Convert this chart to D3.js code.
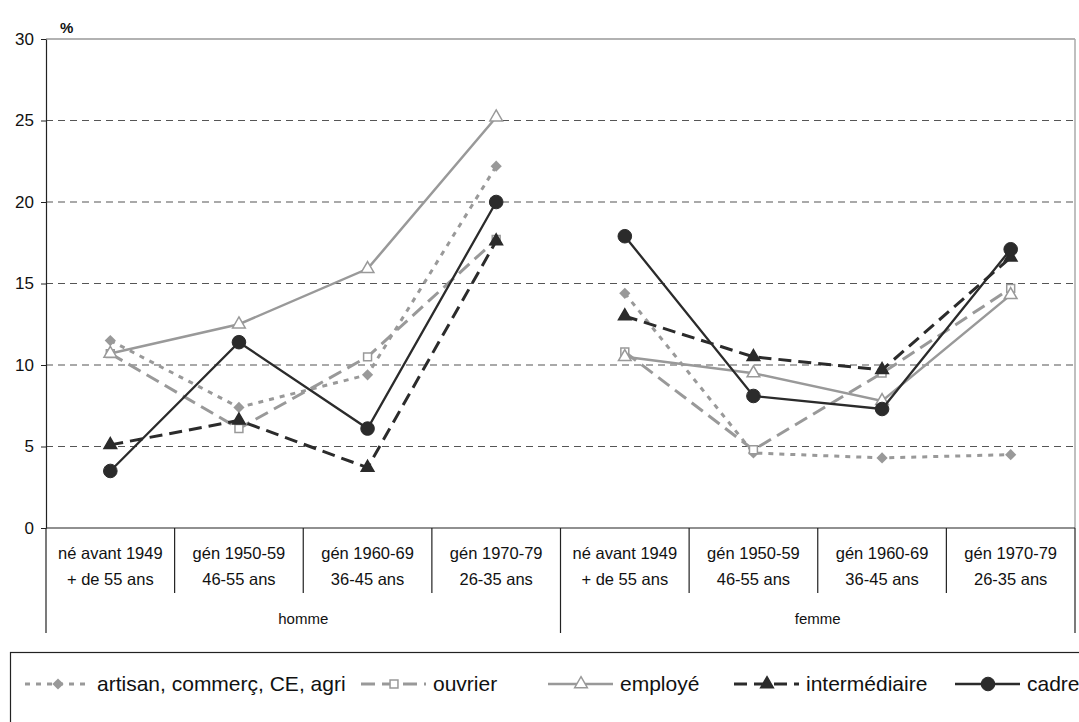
<!DOCTYPE html>
<html>
<head>
<meta charset="utf-8">
<script src="https://cdn.jsdelivr.net/npm/d3@7"></script>
<style>
  body { margin: 0; background: #fff; }
  text { font-family: Arial, "Liberation Sans", sans-serif; fill: #111; }
</style>
</head>
<body>
<div id="chart"></div>
<script>
var width = 1079;
var height = 722;
var margin = {top: 39, right: 4, bottom: 194, left: 46};

// categories (two label lines per column) and groups
var catLine1 = ["né avant 1949", "gén 1950-59", "gén 1960-69", "gén 1970-79",
                "né avant 1949", "gén 1950-59", "gén 1960-69", "gén 1970-79"];
var catLine2 = ["+ de 55 ans", "46-55 ans", "36-45 ans", "26-35 ans",
                "+ de 55 ans", "46-55 ans", "36-45 ans", "26-35 ans"];
var groups = ["homme", "femme"];
var yTicks = [0, 5, 10, 15, 20, 25, 30];

// series values, %
var artisan       = [11.5, 7.4, 9.4, 22.2, 14.4, 4.6, 4.3, 4.5];
var ouvrier       = [10.7, 6.1, 10.5, 17.7, 10.8, 4.8, 9.5, 14.7];
var employe       = [10.7, 12.5, 15.9, 25.2, 10.5, 9.5, 7.8, 14.3];
var intermediaire = [5.1, 6.6, 3.7, 17.6, 13.0, 10.5, 9.7, 16.6];
var cadre         = [3.5, 11.4, 6.1, 20.0, 17.9, 8.1, 7.3, 17.1];

var seriesNames = ["artisan, commerç, CE, agri", "ouvrier", "employé", "intermédiaire", "cadre"];

var grey = "#999999", dark = "#2b2b2b";
var styles = [
    {color: grey, width: 3, dash: "5,6", marker: "diamond", fill: grey},
    {color: grey, width: 3, dash: "14,7", marker: "square", fill: "#fff"},
    {color: grey, width: 2.5, dash: null, marker: "triangle", fill: "#fff"},
    {color: dark, width: 3, dash: "13,7", marker: "triangle", fill: dark},
    {color: dark, width: 2.3, dash: null, marker: "circle", fill: dark}
];
var legendX = [25, 361, 548, 734, 955];

var series = [artisan, ouvrier, employe, intermediaire, cadre].map((v, i) => ({
    name: seriesNames[i], values: v, style: styles[i]
}));

var plotBottom = height - margin.bottom;   // y of 0
var plotRight = width - margin.right;

var x = d3.scaleBand()
          .domain(d3.range(catLine1.length))
          .range([margin.left, plotRight]);

var y = d3.scaleLinear()
          .domain([0, 30])
          .range([plotBottom, margin.top]);

var svg = d3.select("#chart")
            .append("svg")
            .attr("width", width)
            .attr("height", height);

svg.append("rect").attr("width", width).attr("height", height).attr("fill", "#fff");

// gridlines
svg.append("g")
   .selectAll("line")
   .data(yTicks.filter(d => d > 0 && d < 30))
   .enter()
   .append("line")
   .attr("x1", margin.left).attr("x2", plotRight)
   .attr("y1", d => y(d)).attr("y2", d => y(d))
   .attr("stroke", "#555").attr("stroke-width", 1.2)
   .attr("stroke-dasharray", "7,5");

// top and right border of plot area
svg.append("line")
   .attr("x1", margin.left).attr("x2", plotRight)
   .attr("y1", y(30)).attr("y2", y(30))
   .attr("stroke", "#999").attr("stroke-width", 1.5);
svg.append("line")
   .attr("x1", plotRight).attr("x2", plotRight)
   .attr("y1", y(30)).attr("y2", plotBottom)
   .attr("stroke", "#aaa").attr("stroke-width", 1.5);

// y axis
var yAxis = svg.append("g")
               .attr("transform", "translate(" + margin.left + ",0)")
               .call(d3.axisLeft(y).tickValues(yTicks).tickSize(5).tickPadding(7).tickSizeOuter(0));
yAxis.select(".domain").attr("stroke", "#222").attr("stroke-width", 1.2);
yAxis.selectAll(".tick line").attr("stroke", "#222");
yAxis.selectAll("text")
     .style("font-family", "Arial, 'Liberation Sans', sans-serif")
     .style("font-size", "17px").attr("fill", "#111");

svg.append("text")
   .attr("x", 60).attr("y", 33)
   .style("font-size", "15px").style("font-weight", "bold")
   .text("%");

// x axis table
var tbl = svg.append("g");
tbl.append("line")
   .attr("x1", margin.left).attr("x2", plotRight)
   .attr("y1", plotBottom).attr("y2", plotBottom)
   .attr("stroke", "#222").attr("stroke-width", 1.2);

var bounds = d3.range(catLine1.length + 1).map(i => margin.left + i * x.step());
tbl.selectAll("line.div")
   .data(bounds)
   .enter()
   .append("line")
   .attr("class", "div")
   .attr("x1", d => d).attr("x2", d => d)
   .attr("y1", plotBottom)
   .attr("y2", (d, i) => i % 4 === 0 ? plotBottom + 105 : plotBottom + 65)
   .attr("stroke", "#222").attr("stroke-width", 1.2);

var cl = tbl.selectAll("text.cat")
            .data(catLine1)
            .enter()
            .append("text")
            .attr("class", "cat")
            .attr("text-anchor", "middle")
            .style("font-size", "16.5px");
cl.append("tspan")
  .attr("x", (d, i) => x(i) + x.bandwidth() / 2)
  .attr("y", plotBottom + 31)
  .text(d => d);
cl.append("tspan")
  .attr("x", (d, i) => x(i) + x.bandwidth() / 2)
  .attr("y", plotBottom + 57)
  .text((d, i) => catLine2[i]);

tbl.selectAll("text.grp")
   .data(groups)
   .enter()
   .append("text")
   .attr("class", "grp")
   .attr("text-anchor", "middle")
   .attr("x", (d, i) => (bounds[i * 4] + bounds[i * 4 + 4]) / 2)
   .attr("y", plotBottom + 96)
   .style("font-size", "15px")
   .text(d => d);

// series
var line = d3.line()
             .defined(d => d != null)
             .x(d => x(d.i) + x.bandwidth() / 2)
             .y(d => y(d.v));

function marker(sel, st) {
    if (st.marker === "circle") {
        sel.append("circle").attr("r", 6.8)
           .attr("fill", st.fill).attr("stroke", st.color);
    } else {
        var type = st.marker === "diamond" ? d3.symbolDiamond2
                 : st.marker === "square" ? d3.symbolSquare2 : d3.symbolTriangle2;
        var size = st.marker === "diamond" ? 80 : st.marker === "square" ? 80 : 115;
        sel.append("path")
           .attr("d", d3.symbol(type, size))
           .attr("fill", st.fill)
           .attr("stroke", st.color)
           .attr("stroke-width", st.marker === "diamond" ? 0 : 1.5);
    }
}

var sg = svg.selectAll("g.series")
            .data(series)
            .enter()
            .append("g")
            .attr("class", "series");

sg.each(function(s) {
    var g = d3.select(this);
    var pts = s.values.map((v, i) => ({i: i, v: v}));
    [pts.slice(0, 4), pts.slice(4)].forEach(part => {
        g.append("path")
         .attr("d", line(part))
         .attr("fill", "none")
         .attr("stroke", s.style.color)
         .attr("stroke-width", s.style.width)
         .attr("stroke-dasharray", s.style.dash);
    });
    g.selectAll("g.pt")
     .data(pts)
     .enter()
     .append("g")
     .attr("class", "pt")
     .attr("transform", d => "translate(" + (x(d.i) + x.bandwidth() / 2) + "," + y(d.v) + ")")
     .each(function() { marker(d3.select(this), s.style); });
});

// legend
var lgY = 684;
svg.append("rect")
   .attr("x", 10.5).attr("y", 652.5)
   .attr("width", 1100).attr("height", 100)
   .attr("fill", "none").attr("stroke", "#222").attr("stroke-width", 1.2);

var lg = svg.selectAll("g.lg")
            .data(series)
            .enter()
            .append("g")
            .attr("class", "lg")
            .attr("transform", (d, i) => "translate(" + legendX[i] + "," + lgY + ")");
lg.append("line")
  .attr("x1", 0).attr("x2", 65)
  .attr("stroke", d => d.style.color)
  .attr("stroke-width", d => d.style.width)
  .attr("stroke-dasharray", d => d.style.dash);
lg.append("g")
  .attr("transform", "translate(33,0)")
  .each(function(d) { marker(d3.select(this), d.style); });
lg.append("text")
  .attr("x", 72).attr("dy", "0.35em")
  .style("font-size", "21px")
  .text(d => d.name);
</script>
</body>
</html>
